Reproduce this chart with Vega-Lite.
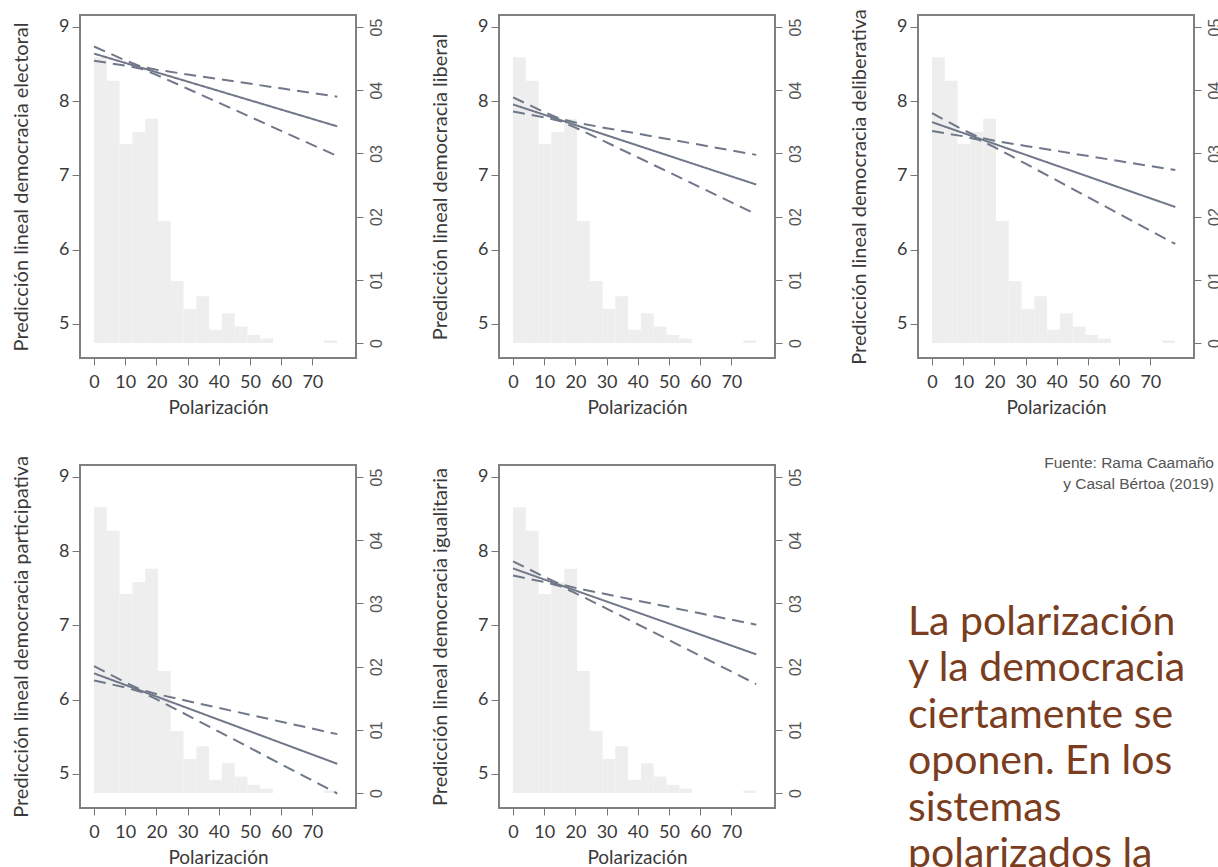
{
  "$schema": "https://vega.github.io/schema/vega-lite/v6.json",
  "padding": {"left": 10, "top": 7, "right": 0, "bottom": 0},
  "bounds": "flush",
  "columns": 3,
  "spacing": {"row": 107, "column": 143},
  "datasets": {
    "hist": [
      {"desde": 0, "hasta": 4.1, "densidad": 0.0452},
      {"desde": 4.1, "hasta": 8.2, "densidad": 0.0415},
      {"desde": 8.2, "hasta": 12.3, "densidad": 0.0315},
      {"desde": 12.3, "hasta": 16.4, "densidad": 0.0334},
      {"desde": 16.4, "hasta": 20.5, "densidad": 0.0355},
      {"desde": 20.5, "hasta": 24.6, "densidad": 0.0193},
      {"desde": 24.6, "hasta": 28.7, "densidad": 0.0098},
      {"desde": 28.7, "hasta": 32.8, "densidad": 0.0054},
      {"desde": 32.8, "hasta": 36.9, "densidad": 0.0074},
      {"desde": 36.9, "hasta": 41.0, "densidad": 0.0021},
      {"desde": 41.0, "hasta": 45.1, "densidad": 0.0047},
      {"desde": 45.1, "hasta": 49.2, "densidad": 0.0026},
      {"desde": 49.2, "hasta": 53.3, "densidad": 0.0013},
      {"desde": 53.3, "hasta": 57.4, "densidad": 0.0007},
      {"desde": 73.8, "hasta": 77.9, "densidad": 0.0004}
    ],
    "electoral": [
      {"polarizacion": 0, "prediccion": 8.64, "serie": "pred"},
      {"polarizacion": 78, "prediccion": 7.66, "serie": "pred"},
      {"polarizacion": 0, "prediccion": 8.736, "serie": "sup"},
      {"polarizacion": 10, "prediccion": 8.549, "serie": "sup"},
      {"polarizacion": 15, "prediccion": 8.467, "serie": "sup"},
      {"polarizacion": 20, "prediccion": 8.424, "serie": "sup"},
      {"polarizacion": 30, "prediccion": 8.359, "serie": "sup"},
      {"polarizacion": 45, "prediccion": 8.266, "serie": "sup"},
      {"polarizacion": 60, "prediccion": 8.172, "serie": "sup"},
      {"polarizacion": 78, "prediccion": 8.06, "serie": "sup"},
      {"polarizacion": 0, "prediccion": 8.544, "serie": "inf"},
      {"polarizacion": 10, "prediccion": 8.479, "serie": "inf"},
      {"polarizacion": 15, "prediccion": 8.437, "serie": "inf"},
      {"polarizacion": 20, "prediccion": 8.354, "serie": "inf"},
      {"polarizacion": 30, "prediccion": 8.167, "serie": "inf"},
      {"polarizacion": 45, "prediccion": 7.884, "serie": "inf"},
      {"polarizacion": 60, "prediccion": 7.6, "serie": "inf"},
      {"polarizacion": 78, "prediccion": 7.26, "serie": "inf"}
    ],
    "liberal": [
      {"polarizacion": 0, "prediccion": 7.955, "serie": "pred"},
      {"polarizacion": 78, "prediccion": 6.876, "serie": "pred"},
      {"polarizacion": 0, "prediccion": 8.051, "serie": "sup"},
      {"polarizacion": 10, "prediccion": 7.852, "serie": "sup"},
      {"polarizacion": 15, "prediccion": 7.763, "serie": "sup"},
      {"polarizacion": 20, "prediccion": 7.713, "serie": "sup"},
      {"polarizacion": 30, "prediccion": 7.636, "serie": "sup"},
      {"polarizacion": 45, "prediccion": 7.524, "serie": "sup"},
      {"polarizacion": 60, "prediccion": 7.411, "serie": "sup"},
      {"polarizacion": 78, "prediccion": 7.276, "serie": "sup"},
      {"polarizacion": 0, "prediccion": 7.859, "serie": "inf"},
      {"polarizacion": 10, "prediccion": 7.782, "serie": "inf"},
      {"polarizacion": 15, "prediccion": 7.733, "serie": "inf"},
      {"polarizacion": 20, "prediccion": 7.643, "serie": "inf"},
      {"polarizacion": 30, "prediccion": 7.444, "serie": "inf"},
      {"polarizacion": 45, "prediccion": 7.142, "serie": "inf"},
      {"polarizacion": 60, "prediccion": 6.839, "serie": "inf"},
      {"polarizacion": 78, "prediccion": 6.476, "serie": "inf"}
    ],
    "deliberativa": [
      {"polarizacion": 0, "prediccion": 7.717, "serie": "pred"},
      {"polarizacion": 78, "prediccion": 6.574, "serie": "pred"},
      {"polarizacion": 0, "prediccion": 7.837, "serie": "sup"},
      {"polarizacion": 10, "prediccion": 7.613, "serie": "sup"},
      {"polarizacion": 15, "prediccion": 7.515, "serie": "sup"},
      {"polarizacion": 20, "prediccion": 7.467, "serie": "sup"},
      {"polarizacion": 30, "prediccion": 7.397, "serie": "sup"},
      {"polarizacion": 45, "prediccion": 7.295, "serie": "sup"},
      {"polarizacion": 60, "prediccion": 7.193, "serie": "sup"},
      {"polarizacion": 78, "prediccion": 7.072, "serie": "sup"},
      {"polarizacion": 0, "prediccion": 7.597, "serie": "inf"},
      {"polarizacion": 10, "prediccion": 7.527, "serie": "inf"},
      {"polarizacion": 15, "prediccion": 7.479, "serie": "inf"},
      {"polarizacion": 20, "prediccion": 7.381, "serie": "inf"},
      {"polarizacion": 30, "prediccion": 7.157, "serie": "inf"},
      {"polarizacion": 45, "prediccion": 6.819, "serie": "inf"},
      {"polarizacion": 60, "prediccion": 6.481, "serie": "inf"},
      {"polarizacion": 78, "prediccion": 6.076, "serie": "inf"}
    ],
    "participativa": [
      {"polarizacion": 0, "prediccion": 6.354, "serie": "pred"},
      {"polarizacion": 78, "prediccion": 5.135, "serie": "pred"},
      {"polarizacion": 0, "prediccion": 6.45, "serie": "sup"},
      {"polarizacion": 10, "prediccion": 6.233, "serie": "sup"},
      {"polarizacion": 15, "prediccion": 6.135, "serie": "sup"},
      {"polarizacion": 20, "prediccion": 6.076, "serie": "sup"},
      {"polarizacion": 30, "prediccion": 5.981, "serie": "sup"},
      {"polarizacion": 45, "prediccion": 5.842, "serie": "sup"},
      {"polarizacion": 60, "prediccion": 5.702, "serie": "sup"},
      {"polarizacion": 78, "prediccion": 5.535, "serie": "sup"},
      {"polarizacion": 0, "prediccion": 6.258, "serie": "inf"},
      {"polarizacion": 10, "prediccion": 6.163, "serie": "inf"},
      {"polarizacion": 15, "prediccion": 6.105, "serie": "inf"},
      {"polarizacion": 20, "prediccion": 6.006, "serie": "inf"},
      {"polarizacion": 30, "prediccion": 5.789, "serie": "inf"},
      {"polarizacion": 45, "prediccion": 5.46, "serie": "inf"},
      {"polarizacion": 60, "prediccion": 5.13, "serie": "inf"},
      {"polarizacion": 78, "prediccion": 4.735, "serie": "inf"}
    ],
    "igualitaria": [
      {"polarizacion": 0, "prediccion": 7.767, "serie": "pred"},
      {"polarizacion": 78, "prediccion": 6.609, "serie": "pred"},
      {"polarizacion": 0, "prediccion": 7.863, "serie": "sup"},
      {"polarizacion": 10, "prediccion": 7.654, "serie": "sup"},
      {"polarizacion": 15, "prediccion": 7.559, "serie": "sup"},
      {"polarizacion": 20, "prediccion": 7.505, "serie": "sup"},
      {"polarizacion": 30, "prediccion": 7.418, "serie": "sup"},
      {"polarizacion": 45, "prediccion": 7.29, "serie": "sup"},
      {"polarizacion": 60, "prediccion": 7.162, "serie": "sup"},
      {"polarizacion": 78, "prediccion": 7.009, "serie": "sup"},
      {"polarizacion": 0, "prediccion": 7.671, "serie": "inf"},
      {"polarizacion": 10, "prediccion": 7.584, "serie": "inf"},
      {"polarizacion": 15, "prediccion": 7.529, "serie": "inf"},
      {"polarizacion": 20, "prediccion": 7.435, "serie": "inf"},
      {"polarizacion": 30, "prediccion": 7.226, "serie": "inf"},
      {"polarizacion": 45, "prediccion": 6.908, "serie": "inf"},
      {"polarizacion": 60, "prediccion": 6.59, "serie": "inf"},
      {"polarizacion": 78, "prediccion": 6.209, "serie": "inf"}
    ],
    "texto": [
      {"lineas": ["La polarización", "y la democracia", "ciertamente se", "oponen. En los", "sistemas", "polarizados la"]}
    ]
  },
  "concat": [
    {
      "width": 276, "height": 343,
      "layer": [
        {"data": {"name": "hist"}, "mark": {"type": "rect", "color": "#eeeeee"},
         "encoding": {
           "x": {"field": "desde", "type": "quantitative", "scale": {"domain": [-4.5, 84], "nice": false, "zero": false},
                 "axis": {"values": [0, 10, 20, 30, 40, 50, 60, 70], "title": "Polarización", "labelOverlap": false}},
           "x2": {"field": "hasta"},
           "y": {"field": "densidad", "type": "quantitative", "scale": {"domain": [-0.00237, 0.0519], "nice": false, "zero": false},
                 "axis": {"orient": "right", "values": [0, 0.01, 0.02, 0.03, 0.04, 0.05], "title": null, "labelAngle": -90, "labelAlign": "center", "labelBaseline": "top", "labelFont": "Liberation Sans", "labelColor": "#555555", "labelFontSize": 16, "tickSize": 7, "labelPadding": 5, "labelExpr": "datum.value == 0 ? '0' : '0' + round(datum.value * 100)"}},
           "y2": {"datum": 0}
         }},
        {"data": {"name": "electoral"}, "mark": {"type": "line", "color": "#6f7788", "strokeWidth": 2},
         "encoding": {
           "x": {"field": "polarizacion", "type": "quantitative", "axis": {"values": [0, 10, 20, 30, 40, 50, 60, 70], "title": "Polarización", "labelOverlap": false}},
           "y": {"field": "prediccion", "type": "quantitative", "scale": {"domain": [4.54, 9.16], "nice": false, "zero": false},
                 "axis": {"orient": "left", "values": [5, 6, 7, 8, 9], "title": "Predicción lineal democracia electoral"}},
           "detail": {"field": "serie"},
           "strokeDash": {"field": "serie", "scale": {"domain": ["pred", "sup", "inf"], "range": [[1, 0], [12, 7], [12, 7]]}, "legend": null}
         }}
      ],
      "resolve": {"scale": {"y": "independent"}, "axis": {"y": "independent"}}
    },
    {
      "width": 276, "height": 343,
      "layer": [
        {"data": {"name": "hist"}, "mark": {"type": "rect", "color": "#eeeeee"},
         "encoding": {
           "x": {"field": "desde", "type": "quantitative", "scale": {"domain": [-4.5, 84], "nice": false, "zero": false},
                 "axis": {"values": [0, 10, 20, 30, 40, 50, 60, 70], "title": "Polarización", "labelOverlap": false}},
           "x2": {"field": "hasta"},
           "y": {"field": "densidad", "type": "quantitative", "scale": {"domain": [-0.00237, 0.0519], "nice": false, "zero": false},
                 "axis": {"orient": "right", "values": [0, 0.01, 0.02, 0.03, 0.04, 0.05], "title": null, "labelAngle": -90, "labelAlign": "center", "labelBaseline": "top", "labelFont": "Liberation Sans", "labelColor": "#555555", "labelFontSize": 16, "tickSize": 7, "labelPadding": 5, "labelExpr": "datum.value == 0 ? '0' : '0' + round(datum.value * 100)"}},
           "y2": {"datum": 0}
         }},
        {"data": {"name": "liberal"}, "mark": {"type": "line", "color": "#6f7788", "strokeWidth": 2},
         "encoding": {
           "x": {"field": "polarizacion", "type": "quantitative", "axis": {"values": [0, 10, 20, 30, 40, 50, 60, 70], "title": "Polarización", "labelOverlap": false}},
           "y": {"field": "prediccion", "type": "quantitative", "scale": {"domain": [4.54, 9.16], "nice": false, "zero": false},
                 "axis": {"orient": "left", "values": [5, 6, 7, 8, 9], "title": "Predicción lineal democracia liberal"}},
           "detail": {"field": "serie"},
           "strokeDash": {"field": "serie", "scale": {"domain": ["pred", "sup", "inf"], "range": [[1, 0], [12, 7], [12, 7]]}, "legend": null}
         }}
      ],
      "resolve": {"scale": {"y": "independent"}, "axis": {"y": "independent"}}
    },
    {
      "width": 276, "height": 343,
      "layer": [
        {"data": {"name": "hist"}, "mark": {"type": "rect", "color": "#eeeeee"},
         "encoding": {
           "x": {"field": "desde", "type": "quantitative", "scale": {"domain": [-4.5, 84], "nice": false, "zero": false},
                 "axis": {"values": [0, 10, 20, 30, 40, 50, 60, 70], "title": "Polarización", "labelOverlap": false}},
           "x2": {"field": "hasta"},
           "y": {"field": "densidad", "type": "quantitative", "scale": {"domain": [-0.00237, 0.0519], "nice": false, "zero": false},
                 "axis": {"orient": "right", "values": [0, 0.01, 0.02, 0.03, 0.04, 0.05], "title": null, "labelAngle": -90, "labelAlign": "center", "labelBaseline": "top", "labelFont": "Liberation Sans", "labelColor": "#555555", "labelFontSize": 16, "tickSize": 7, "labelPadding": 5, "labelExpr": "datum.value == 0 ? '0' : '0' + round(datum.value * 100)"}},
           "y2": {"datum": 0}
         }},
        {"data": {"name": "deliberativa"}, "mark": {"type": "line", "color": "#6f7788", "strokeWidth": 2},
         "encoding": {
           "x": {"field": "polarizacion", "type": "quantitative", "axis": {"values": [0, 10, 20, 30, 40, 50, 60, 70], "title": "Polarización", "labelOverlap": false}},
           "y": {"field": "prediccion", "type": "quantitative", "scale": {"domain": [4.54, 9.16], "nice": false, "zero": false},
                 "axis": {"orient": "left", "values": [5, 6, 7, 8, 9], "title": "Predicción lineal democracia deliberativa"}},
           "detail": {"field": "serie"},
           "strokeDash": {"field": "serie", "scale": {"domain": ["pred", "sup", "inf"], "range": [[1, 0], [12, 7], [12, 7]]}, "legend": null}
         }}
      ],
      "resolve": {"scale": {"y": "independent"}, "axis": {"y": "independent"}}
    },
    {
      "width": 276, "height": 343,
      "layer": [
        {"data": {"name": "hist"}, "mark": {"type": "rect", "color": "#eeeeee"},
         "encoding": {
           "x": {"field": "desde", "type": "quantitative", "scale": {"domain": [-4.5, 84], "nice": false, "zero": false},
                 "axis": {"values": [0, 10, 20, 30, 40, 50, 60, 70], "title": "Polarización", "labelOverlap": false}},
           "x2": {"field": "hasta"},
           "y": {"field": "densidad", "type": "quantitative", "scale": {"domain": [-0.00237, 0.0519], "nice": false, "zero": false},
                 "axis": {"orient": "right", "values": [0, 0.01, 0.02, 0.03, 0.04, 0.05], "title": null, "labelAngle": -90, "labelAlign": "center", "labelBaseline": "top", "labelFont": "Liberation Sans", "labelColor": "#555555", "labelFontSize": 16, "tickSize": 7, "labelPadding": 5, "labelExpr": "datum.value == 0 ? '0' : '0' + round(datum.value * 100)"}},
           "y2": {"datum": 0}
         }},
        {"data": {"name": "participativa"}, "mark": {"type": "line", "color": "#6f7788", "strokeWidth": 2},
         "encoding": {
           "x": {"field": "polarizacion", "type": "quantitative", "axis": {"values": [0, 10, 20, 30, 40, 50, 60, 70], "title": "Polarización", "labelOverlap": false}},
           "y": {"field": "prediccion", "type": "quantitative", "scale": {"domain": [4.54, 9.16], "nice": false, "zero": false},
                 "axis": {"orient": "left", "values": [5, 6, 7, 8, 9], "title": "Predicción lineal democracia participativa"}},
           "detail": {"field": "serie"},
           "strokeDash": {"field": "serie", "scale": {"domain": ["pred", "sup", "inf"], "range": [[1, 0], [12, 7], [12, 7]]}, "legend": null}
         }}
      ],
      "resolve": {"scale": {"y": "independent"}, "axis": {"y": "independent"}}
    },
    {
      "width": 276, "height": 343,
      "layer": [
        {"data": {"name": "hist"}, "mark": {"type": "rect", "color": "#eeeeee"},
         "encoding": {
           "x": {"field": "desde", "type": "quantitative", "scale": {"domain": [-4.5, 84], "nice": false, "zero": false},
                 "axis": {"values": [0, 10, 20, 30, 40, 50, 60, 70], "title": "Polarización", "labelOverlap": false}},
           "x2": {"field": "hasta"},
           "y": {"field": "densidad", "type": "quantitative", "scale": {"domain": [-0.00237, 0.0519], "nice": false, "zero": false},
                 "axis": {"orient": "right", "values": [0, 0.01, 0.02, 0.03, 0.04, 0.05], "title": null, "labelAngle": -90, "labelAlign": "center", "labelBaseline": "top", "labelFont": "Liberation Sans", "labelColor": "#555555", "labelFontSize": 16, "tickSize": 7, "labelPadding": 5, "labelExpr": "datum.value == 0 ? '0' : '0' + round(datum.value * 100)"}},
           "y2": {"datum": 0}
         }},
        {"data": {"name": "igualitaria"}, "mark": {"type": "line", "color": "#6f7788", "strokeWidth": 2},
         "encoding": {
           "x": {"field": "polarizacion", "type": "quantitative", "axis": {"values": [0, 10, 20, 30, 40, 50, 60, 70], "title": "Polarización", "labelOverlap": false}},
           "y": {"field": "prediccion", "type": "quantitative", "scale": {"domain": [4.54, 9.16], "nice": false, "zero": false},
                 "axis": {"orient": "left", "values": [5, 6, 7, 8, 9], "title": "Predicción lineal democracia igualitaria"}},
           "detail": {"field": "serie"},
           "strokeDash": {"field": "serie", "scale": {"domain": ["pred", "sup", "inf"], "range": [[1, 0], [12, 7], [12, 7]]}, "legend": null}
         }}
      ],
      "resolve": {"scale": {"y": "independent"}, "axis": {"y": "independent"}}
    },
    {
      "width": 296, "height": 343,
      "view": {"stroke": null},
      "title": {"text": ["Fuente: Rama Caamaño", "y Casal Bértoa (2019)"], "anchor": "end", "align": "right", "font": "Liberation Sans", "fontSize": 15.5, "fontWeight": "normal", "color": "#555555", "lineHeight": 21, "offset": -27},
      "data": {"name": "texto"},
      "mark": {"type": "text", "align": "left", "baseline": "alphabetic", "font": "Lato", "fontSize": 41, "color": "#7a3d20", "lineHeight": 46.4, "dx": -10},
      "encoding": {"text": {"field": "lineas"}, "x": {"value": 0}, "y": {"value": 170}}
    }
  ],
  "config": {
    "view": {"stroke": "#808080", "strokeWidth": 2},
    "axis": {"labelFont": "Lato", "titleFont": "Lato", "labelColor": "#3a3a3a", "titleColor": "#3a3a3a", "tickColor": "#777777", "domain": false, "grid": false, "titleFontWeight": "normal", "labelFontSize": 18, "titleFontSize": 20, "labelOverlap": false},
    "axisX": {"tickSize": 7, "labelPadding": 8, "titlePadding": 7, "titleFontSize": 19},
    "axisY": {"tickSize": 8, "labelPadding": 3, "titlePadding": 27}
  }
}
